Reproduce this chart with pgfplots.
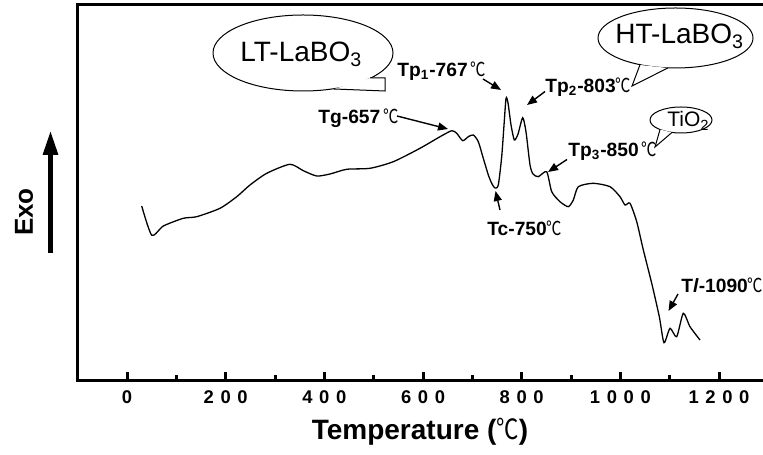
\documentclass[border=0pt]{standalone}
\usepackage{fontspec}
\setmainfont{Liberation Sans}
\newfontfamily\cjk{Noto Sans CJK SC}
\usepackage{pgfplots}
\pgfplotsset{compat=1.18}
\usetikzlibrary{arrows.meta}
\newcommand\dc{{\cjk\mdseries\scalebox{0.8}[1]{℃}}}
\newcommand\tsp{\kern.36em}

\begin{document}
\begin{tikzpicture}
\useasboundingbox (0,0) rectangle (381.5pt,227pt);
\begin{axis}[
  at={(38.5pt,37pt)}, anchor=south west,
  width=343pt, height=187.5pt, scale only axis,
  xmin=-101.4, xmax=1289.2, ymin=0, ymax=375,
  axis x line*=bottom, axis y line*=left,
  axis line style={-, line width=1.5pt, line cap=rect},
  xtick={0,200,...,1200},
  xticklabels={0,2\tsp0\tsp0,4\tsp0\tsp0,6\tsp0\tsp0,8\tsp0\tsp0,1\tsp0\tsp0\tsp0,1\tsp2\tsp0\tsp0},
  minor x tick num=1,
  ytick=\empty,
  tick align=inside,
  major tick length=4pt, minor tick length=2.3pt,
  tick style={black, line width=1.5pt},
  xticklabel style={font=\fontsize{9.2}{11}\selectfont\bfseries, yshift=-1.6pt},
  xlabel={Temperature (\dc)},
  xlabel style={at={(axis description cs:0.5,0)}, anchor=center, yshift=-25.8pt,
    font=\fontsize{14}{16}\selectfont\bfseries},
  ylabel={Exo},
  ylabel style={at={(axis description cs:-0.0773,0.448)}, anchor=center,
    font=\fontsize{13}{15}\selectfont\bfseries},
  clip=false,
]
\addplot[black, line width=0.65pt, smooth, tension=0.4] table {
T Y
29.8 174
50.1 144.7
73.6 154
114.1 161.7
141.3 163.3
188.5 171.7
222.4 183.3
249.3 195
283.2 206.7
330.1 215.7
357.4 209.3
384.5 204
411.5 206
445.3 210.7
492.6 211.7
539.8 218.3
593.9 231.7
634.5 243.3
658.2 249.3
668.3 246.7
680.5 239.3
691.8 243.3
702 245
712.1 238.3
722.2 221.7
732.4 205
739.9 196
746 192
752.6 195
759.5 223.3
764.2 255
768.3 281.7
772.3 277
778.4 255
785.1 240
792.6 246
802.1 262.3
808.8 248
816.9 215
823 206
833.7 203.3
850.7 208.3
860.9 188.3
877.7 178.3
894.5 173.3
904.7 180
914.8 193.3
945.2 196.7
979.1 193.3
999.3 183.3
1009.5 175
1019.6 176.7
1033.2 158.3
1046.6 130
1063.6 96.7
1079 63.3
1088.5 37.3
1100.7 51.7
1114.2 43.3
1127.6 66.7
1141.2 53.3
1161.5 40
};
\draw[line width=1.5pt, line cap=rect] (rel axis cs:0,1) -- (rel axis cs:1,1);
\end{axis}

\begin{scope}[shift={(0,227pt)}, x=0.5pt, y=-0.5pt]
\tikzset{ann/.style={line width=0.7pt, -{Triangle[length=5pt,width=4pt]}},
  lab/.style={anchor=base west, inner sep=0, font=\fontsize{9.6}{11}\selectfont\bfseries}}
% Exo arrow
\draw[line width=2.8pt, -{Triangle[length=12.5pt,width=7pt]}] (50.5,253) -- (50.5,130);
% LT bubble
\draw[line width=0.5pt, fill=white] (303,53) ellipse [x radius=90, y radius=38];
\fill[white] (370,78) -- (385,78) -- (385,91) -- (334,89) -- cycle;
\draw[line width=0.5pt] (370,78) -- (385,78) -- (385,91) -- (334,89);
\node[anchor=base west, inner sep=0, font=\fontsize{14}{16}\selectfont] at (240,62) {LT-LaBO\textsubscript{3}};
% HT bubble
\draw[line width=0.5pt, fill=white] (675.5,38) ellipse [x radius=77.5, y radius=30];
\fill[white] (640,65) -- (632,86) -- (668,68) -- cycle;
\draw[line width=0.5pt] (640,64.7) -- (632,86) -- (668,67.9);
\node[anchor=base west, inner sep=0, font=\fontsize{14}{16}\selectfont] at (615,44) {HT-LaBO\textsubscript{3}};
% TiO2 bubble
\draw[line width=0.5pt, fill=white] (681,120) ellipse [x radius=31, y radius=13];
\fill[white] (660,129.6) -- (655,147) -- (672,132.4) -- cycle;
\draw[line width=0.5pt] (660,129.6) -- (655,147) -- (672,132.4);
\node[anchor=base west, inner sep=0, font=\fontsize{10.5}{12}\selectfont] at (667,127) {TiO\textsubscript{2}};
% labels
\node[lab] at (318,124) {Tg-657\,\dc};
\draw[ann] (397,116) -- (448,129);
\node[lab] at (397,77) {Tp\textsubscript{1}-767\,\dc};
\draw[ann] (483,79) -- (501,90);
\node[lab] at (545,93) {Tp\textsubscript{2}-803\dc};
\draw[ann] (545,91.5) -- (527,105);
\node[lab] at (568,157) {Tp\textsubscript{3}-850\,\dc};
\draw[ann] (567,159.5) -- (548,172);
\node[lab] at (487,236) {Tc-750\dc};
\draw[ann] (500,210) -- (495.5,191);
\node[lab] at (681,293) {T\textit{l}-1090\dc};
\draw[ann] (678,294) -- (668.5,311);
\end{scope}
\end{tikzpicture}
\end{document}
